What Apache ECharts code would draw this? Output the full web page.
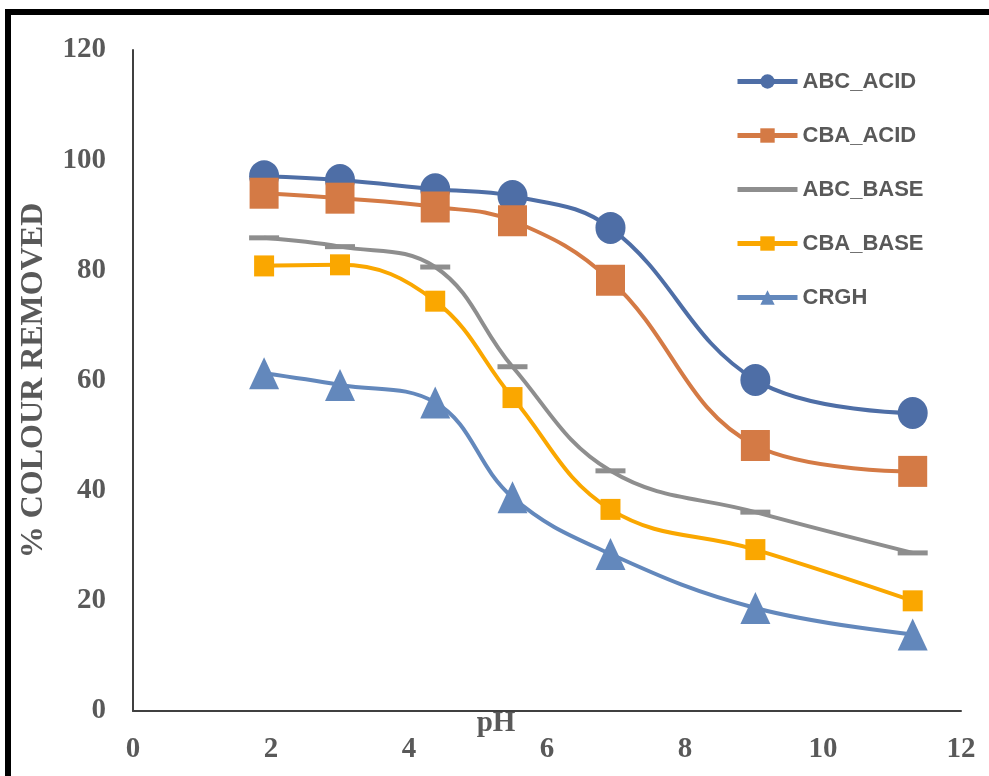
<!DOCTYPE html>
<html>
<head>
<meta charset="utf-8">
<script src="https://cdn.jsdelivr.net/npm/echarts@6/dist/echarts.min.js"></script>
<style>
  html, body { margin: 0; padding: 0; background: #fff; }
  #chart { width: 989px; height: 776px; }
</style>
</head>
<body>
<div id="chart"></div>
<script>
// pH values at which colour removal was measured
const phValues = [1.9, 3.0, 4.38, 5.5, 6.92, 9.02, 11.3];

// % colour removed for each adsorbent
const abcAcid = [97.1, 96.4, 94.7, 93.5, 87.7, 60.1, 54.1];
const cbaAcid = [94.0, 93.1, 91.5, 89.0, 78.2, 48.2, 43.5];
const abcBase = [85.9, 84.3, 80.6, 62.5, 43.6, 36.1, 28.7];
const cbaBase = [80.8, 81.0, 74.4, 56.9, 36.6, 29.3, 20.0];
const crgh    = [61.3, 59.2, 56.0, 38.8, 28.5, 18.7, 13.9];

const seriesNames = ['ABC_ACID', 'CBA_ACID', 'ABC_BASE', 'CBA_BASE', 'CRGH'];

const xTicks = [0, 2, 4, 6, 8, 10, 12];
const yTicks = [0, 20, 40, 60, 80, 100, 120];

function pairs(ys) {
  return phValues.map((x, i) => [x, ys[i]]);
}

const serifBold = {
  fontFamily: '"Liberation Serif", "Times New Roman", serif',
  fontWeight: 'bold',
  color: '#595959'
};

const chart = echarts.init(document.getElementById('chart'), null, { renderer: 'canvas' });

function lineSeries(name, values, color, symbol, size) {
  return {
    name: name,
    type: 'line',
    data: pairs(values),
    smooth: 0.4,
    symbol: symbol,
    symbolSize: size,
    lineStyle: { color: color, width: 4 },
    itemStyle: { color: color, borderWidth: 0 },
    emphasis: { disabled: true }
  };
}

// ABC_BASE uses a flat dash marker on the plot; its legend entry shows only the line
const legendItems = seriesNames.map(n =>
  n === 'ABC_BASE' ? { name: n, itemStyle: { opacity: 0 } } : { name: n }
);

chart.setOption({
  animation: false,
  backgroundColor: '#ffffff',
  graphic: [{
    type: 'rect',
    z: -10,
    shape: { x: 8, y: 12, width: 1200, height: 1000 },
    style: { fill: 'none', stroke: '#000', lineWidth: 6 }
  }],
  grid: { left: 133, right: 28, top: 50, bottom: 65, containLabel: false, outerBoundsMode: 'none' },
  legend: {
    orient: 'vertical',
    left: 730,
    top: 65,
    itemWidth: 60,
    itemHeight: 18,
    itemGap: 31,
    symbolKeepAspect: true,
    lineStyle: { width: 5 },
    textStyle: {
      fontFamily: '"Liberation Sans", Arial, sans-serif',
      fontWeight: 'bold',
      fontSize: 22,
      lineHeight: 23,
      color: '#595959'
    },
    data: legendItems
  },
  xAxis: {
    type: 'value',
    min: 0, max: 12, interval: 2,
    name: 'pH',
    nameLocation: 'middle',
    nameGap: -2,
    nameMoveOverlap: false,
    nameTextStyle: Object.assign({ fontSize: 29, padding: [0, 102, 0, 0] }, serifBold),
    axisLine: { show: true, lineStyle: { color: '#404040', width: 2 } },
    axisTick: { show: false },
    splitLine: { show: false },
    axisLabel: Object.assign({
      fontSize: 29, margin: 24,
      formatter: v => xTicks.includes(v) ? String(v) : ''
    }, serifBold)
  },
  yAxis: {
    type: 'value',
    min: 0, max: 120, interval: 20,
    name: '% COLOUR REMOVED',
    nameLocation: 'middle',
    nameGap: 83,
    nameTextStyle: Object.assign({ fontSize: 32 }, serifBold),
    axisLine: { show: true, lineStyle: { color: '#404040', width: 2 } },
    axisTick: { show: false },
    splitLine: { show: false },
    axisLabel: Object.assign({
      fontSize: 29, margin: 27,
      formatter: v => yTicks.includes(v) ? String(v) : ''
    }, serifBold)
  },
  series: [
    lineSeries('ABC_ACID', abcAcid, '#4E6EA6', 'circle', [30, 32]),
    lineSeries('CBA_ACID', cbaAcid, '#D47A45', 'rect', [29, 31]),
    lineSeries('ABC_BASE', abcBase, '#8E8E8E', 'rect', [30, 5]),
    lineSeries('CBA_BASE', cbaBase, '#FAA700', 'rect', [20, 21]),
    lineSeries('CRGH', crgh, '#6388BC', 'triangle', [30, 32])
  ]
});
</script>
</body>
</html>
